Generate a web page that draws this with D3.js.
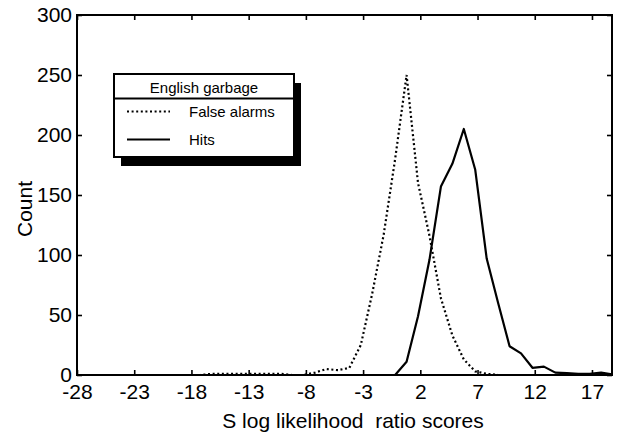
<!DOCTYPE html>
<html><head><meta charset="utf-8">
<script src="https://cdn.jsdelivr.net/npm/d3@7/dist/d3.min.js"></script>
<style>
html,body{margin:0;padding:0;background:#fff;}
svg{display:block;font-family:"Liberation Sans",Arial,Helvetica,sans-serif;}
</style></head>
<body>
<script>
// Bin centres (S log likelihood ratio scores)
const bins = [-28.2,-27.2,-26.2,-25.2,-24.2,-23.2,-22.2,-21.2,-20.2,-19.2,-18.2,-17.2,-16.2,-15.2,-14.2,-13.2,-12.2,-11.2,-10.2,-9.2,-8.2,-7.2,-6.2,-5.2,-4.2,-3.2,-2.2,-1.2,-0.2,0.8,1.8,2.8,3.8,4.8,5.8,6.8,7.8,8.8,9.8,10.8,11.8,12.8,13.8,14.8,15.8,16.8,17.8,18.8];
// Counts
const falseAlarms = [0,0,0,0,0,0,0,0,0,0,0,0,1,1,1,1,1,1,1,0,0,2,5,4,6,25,68,117,180,250,160,116,64,33,13,3,1,0,0,0,0,0,0,0,0,0,0,0];
const hits        = [0,0,0,0,0,0,0,0,0,0,0,0,0,0,0,0,0,0,0,0,0,0,0,0,0,0,0,0,0,11,49,96,157,176,205,171,97,60,24,18,6,7,2,1.5,1,1,2,0.5];
const xTicks = [-28,-23,-18,-13,-8,-3,2,7,12,17];
const yTicks = [0,50,100,150,200,250,300];
const seriesNames = ["False alarms","Hits"];
const legendTitle = "English garbage";
const xLabel = "S log likelihood  ratio scores";
const yLabel = "Count";

(function(){
const W = 620, H = 432;
const m = {l:77, t:15, r:612, b:375};
const svg = d3.select("body").append("svg").attr("width",W).attr("height",H);

const x = d3.scaleLinear().domain([-28,18.75]).range([m.l,m.r]);
const y = d3.scaleLinear().domain([0,300]).range([m.b,m.t]);

svg.append("clipPath").attr("id","clip").append("rect")
  .attr("x",m.l).attr("y",m.t).attr("width",m.r-m.l).attr("height",m.b-m.t);

const line = d3.line().x((d,i)=>x(bins[i])).y(d=>y(d));
const g = svg.append("g").attr("clip-path","url(#clip)");
g.append("path").datum(falseAlarms).attr("d",line)
  .attr("fill","none").attr("stroke","#000").attr("stroke-width",2.2)
  .attr("stroke-dasharray","2,2.6");
g.append("path").datum(hits).attr("d",line)
  .attr("fill","none").attr("stroke","#000").attr("stroke-width",2.2)
  .attr("stroke-linejoin","round");

// axes (inward ticks)
const tl = 5;
const fs = 21;
const fmt = d => String(d);
const axB = svg.append("g").attr("transform",`translate(0,${m.b})`)
  .call(d3.axisBottom(x).tickValues(xTicks).tickFormat(fmt).tickSizeInner(-tl).tickSizeOuter(0).tickPadding(9));
const axT = svg.append("g").attr("transform",`translate(0,${m.t})`)
  .call(d3.axisTop(x).tickValues(xTicks).tickSizeInner(-tl).tickSizeOuter(0).tickFormat(""));
const axL = svg.append("g").attr("transform",`translate(${m.l},0)`)
  .call(d3.axisLeft(y).tickValues(yTicks).tickFormat(fmt).tickSizeInner(-tl).tickSizeOuter(0).tickPadding(5));
const axR = svg.append("g").attr("transform",`translate(${m.r},0)`)
  .call(d3.axisRight(y).tickValues(yTicks).tickSizeInner(-tl).tickSizeOuter(0).tickFormat(""));
[axB,axT,axL,axR].forEach(a=>{
  a.select(".domain").remove();
  a.selectAll(".tick line").attr("stroke","#000").attr("stroke-width",1.6);
  a.selectAll("text").attr("font-size",fs).attr("fill","#000")
   .attr("font-family","Liberation Sans, Arial, sans-serif");
});
svg.append("rect").attr("x",m.l).attr("y",m.t).attr("width",m.r-m.l).attr("height",m.b-m.t)
  .attr("fill","none").attr("stroke","#000").attr("stroke-width",2);

// axis labels
svg.append("text").attr("x",353).attr("y",428)
  .attr("text-anchor","middle").attr("font-size",fs).style("white-space","pre").text(xLabel);
svg.append("text").attr("transform",`translate(32,${(m.t+m.b)/2+14}) rotate(-90)`)
  .attr("text-anchor","middle").attr("font-size",fs).text(yLabel);

// legend
const L = {x:114, y:74, w:180, h:83, dx:7, dy:9};
const lg = svg.append("g");
lg.append("rect").attr("x",L.x+L.dx).attr("y",L.y+L.dy).attr("width",L.w).attr("height",L.h).attr("fill","#000");
lg.append("rect").attr("x",L.x).attr("y",L.y).attr("width",L.w).attr("height",L.h)
  .attr("fill","#fff").attr("stroke","#000").attr("stroke-width",2);
lg.append("line").attr("x1",L.x).attr("x2",L.x+L.w).attr("y1",98.5).attr("y2",98.5)
  .attr("stroke","#000").attr("stroke-width",2);
lg.append("text").attr("x",L.x+L.w/2).attr("y",93).attr("text-anchor","middle")
  .attr("font-size",15).text(legendTitle);
const rows = [{y:111.5,dash:"2,2.6"},{y:139.5,dash:null}];
rows.forEach((r,i)=>{
  const ln = lg.append("line").attr("x1",127).attr("x2",170).attr("y1",r.y).attr("y2",r.y)
    .attr("stroke","#000").attr("stroke-width",2.2);
  if(r.dash) ln.attr("stroke-dasharray",r.dash);
  lg.append("text").attr("x",189).attr("y",r.y+5).attr("font-size",15).text(seriesNames[i]);
});
})();
</script>
</body></html>
